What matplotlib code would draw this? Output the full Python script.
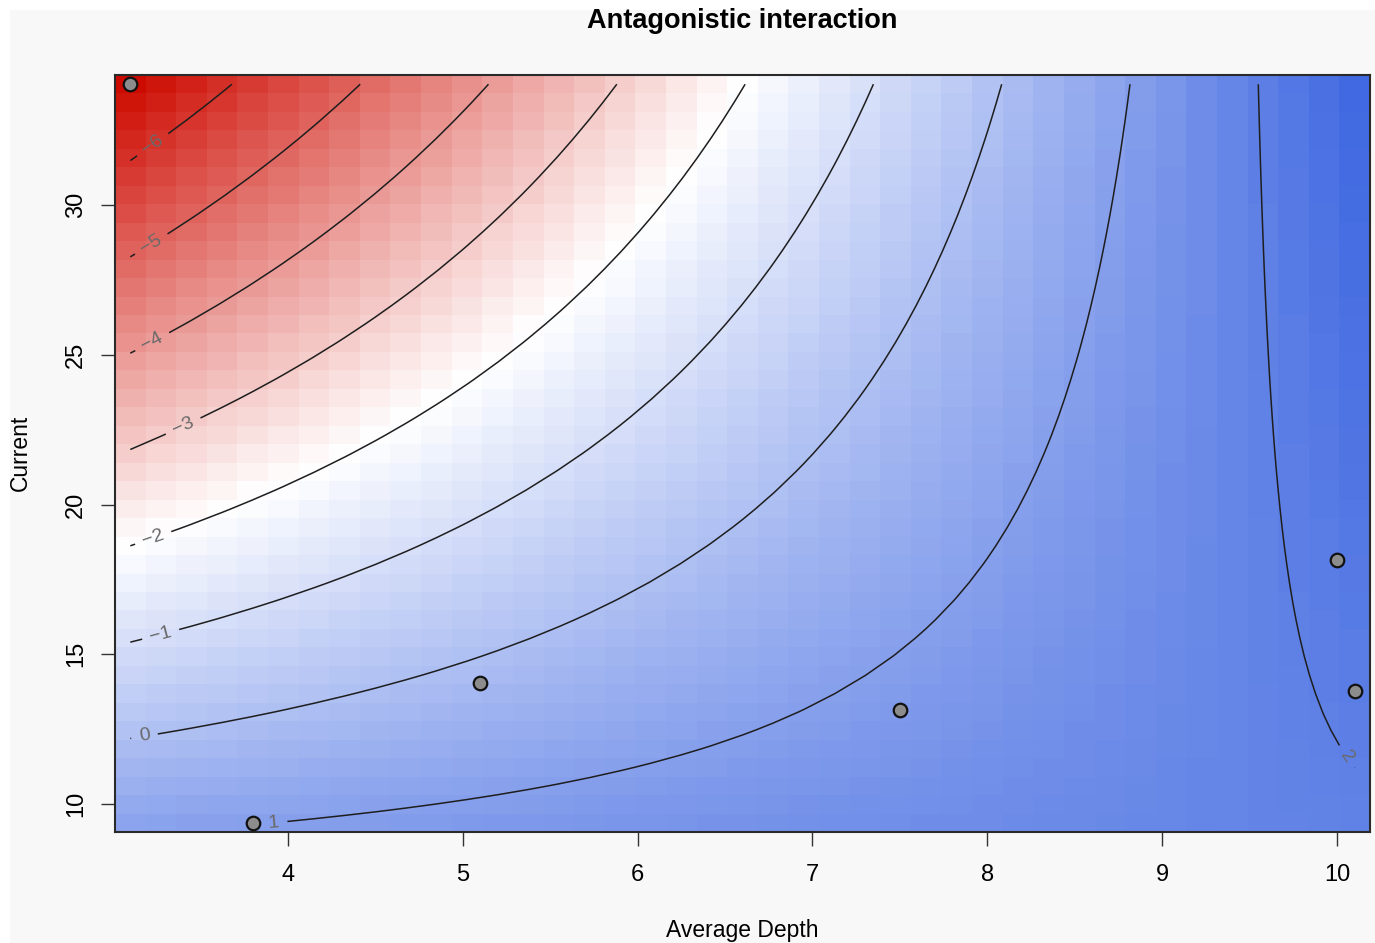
import numpy as np
import matplotlib
matplotlib.use("Agg")
import matplotlib.pyplot as plt
from matplotlib.colors import LinearSegmentedColormap, Normalize
from matplotlib.patches import Rectangle

plt.rcParams['font.family'] = ['Liberation Sans', 'DejaVu Sans']

# sampled sites
depth = [3.1, 3.8, 5.1, 7.5, 10.0, 10.1]
current = [34.04, 9.37, 14.04, 13.14, 18.15, 13.77]

# linear model with interaction: b0 + b1*depth + b2*current + b3*depth*current
b0 = 4.742
b_depth = -0.308
b_current = -0.463
b_inter = 0.0491

levels = [-6, -5, -4, -3, -2, -1, 0, 1, 2]
# where each contour carries its label (depth, current)
label_pos = [(3.23, 32.0), (3.22, 28.7), (3.22, 25.5), (3.40, 22.65),
             (3.23, 18.9), (3.27, 15.75), (3.18, 12.3), (3.89, 9.45), (10.06, 11.6)]
n_grid = 41

# prediction grid over the observed range
gx = np.linspace(min(depth), max(depth), n_grid)
gy = np.linspace(min(current), max(current), n_grid)
X, Y = np.meshgrid(gx, gy)
Z = b0 + b_depth * X + b_current * Y + b_inter * X * Y


def cell_edges(v):
    half = (v[1] - v[0]) / 2
    return np.concatenate([[v[0] - half], v + half])


def level_fmt(v):
    return f"{int(round(v))}".replace("-", "\u2212")


ex = cell_edges(gx)
ey = cell_edges(gy)

cmap = LinearSegmentedColormap.from_list("rwb", ["#CD0A00", "#FFFFFF", "#4169E1"])
norm = Normalize(vmin=Z.min(), vmax=Z.max())

W, H = 1375, 943
fig = plt.figure(figsize=(W / 100, H / 100), dpi=100, facecolor="white")
fig.patches.append(Rectangle((10 / W, 0), 1, 1 - 10 / H, transform=fig.transFigure,
                             facecolor="#F8F8F8", edgecolor="none", zorder=-10))

ax = fig.add_axes([115 / W, 1 - 832 / H, 1255 / W, 757 / H])
ax.pcolormesh(ex, ey, Z, cmap=cmap, norm=norm, shading="flat")

cs = ax.contour(gx, gy, Z, levels=levels, colors="#1e1e1e", linewidths=1.1,
                linestyles="solid")
ax.clabel(cs, manual=label_pos, inline=True, inline_spacing=8, fmt=level_fmt,
          fontsize=14, colors="#6a6a6a")

ax.scatter(depth, current, s=95, facecolor="#8C8C8C", edgecolor="#111111",
           linewidth=1.6, zorder=5)

ax.set_xlim(ex[0], ex[-1])
ax.set_ylim(ey[0], ey[-1])
ax.set_xticks([4, 5, 6, 7, 8, 9, 10])
ax.set_yticks([10, 15, 20, 25, 30])
ax.tick_params(direction="out", length=10, width=1.0, labelsize=17, color="#333333")
ax.tick_params(axis="x", pad=13)
ax.tick_params(axis="y", pad=10, labelrotation=90)
for lbl in ax.get_yticklabels():
    lbl.set_va("center")
for sp in ax.spines.values():
    sp.set_linewidth(1.5)
    sp.set_color("#2a2a2a")

fig.text(742.5 / W, 1 - 21 / H, "Antagonistic interaction", ha="center", va="center",
         fontsize=19.5, fontweight="bold")
fig.text(742.5 / W, 1 - 931 / H, "Average Depth", ha="center", va="center", fontsize=16.5)
fig.text(20 / W, 1 - 453 / H, "Current", ha="center", va="center", rotation=90, fontsize=16.5)

fig.savefig("out.png", dpi=100, facecolor=fig.get_facecolor())
